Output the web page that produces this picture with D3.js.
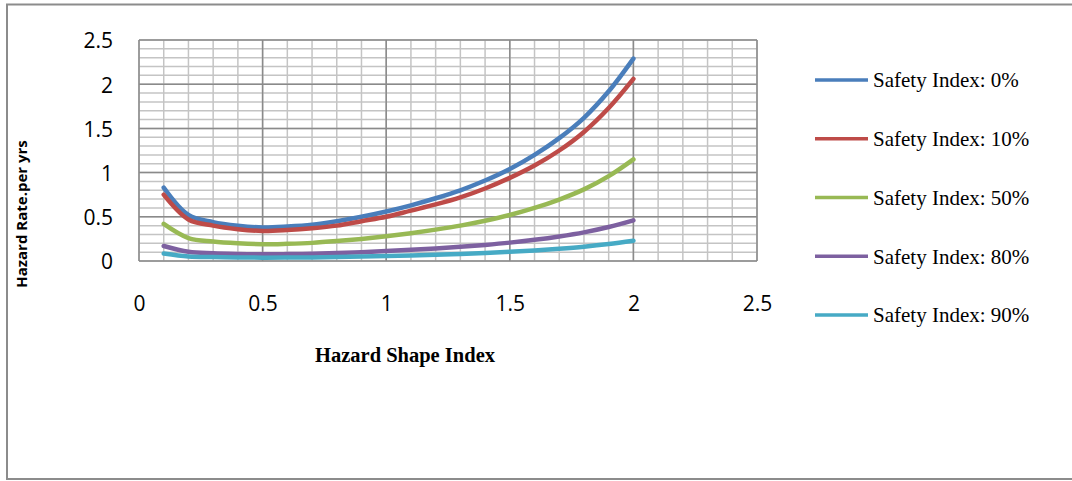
<!DOCTYPE html>
<html>
<head>
<meta charset="utf-8">
<script src="https://cdn.jsdelivr.net/npm/d3@7"></script>
<style>
  html, body { margin: 0; padding: 0; background: #fff; }
  svg { display: block; }
</style>
</head>
<body>
<svg id="chart" width="1072" height="481"></svg>
<script>
// Hazard rate against hazard shape index, one curve per safety index.
const shapeIndex = [0.1, 0.2, 0.3, 0.4, 0.5, 0.6, 0.7, 0.8, 0.9, 1.0,
                    1.1, 1.2, 1.3, 1.4, 1.5, 1.6, 1.7, 1.8, 1.9, 2.0];

const seriesNames = ["Safety Index: 0%", "Safety Index: 10%", "Safety Index: 50%",
                     "Safety Index: 80%", "Safety Index: 90%"];

const safety0  = [0.83, 0.52, 0.44, 0.40, 0.38, 0.39, 0.41, 0.45, 0.50, 0.56,
                  0.63, 0.71, 0.80, 0.91, 1.04, 1.20, 1.39, 1.62, 1.92, 2.29];
const safety10 = [0.75, 0.47, 0.40, 0.36, 0.34, 0.35, 0.37, 0.40, 0.45, 0.50,
                  0.57, 0.64, 0.72, 0.82, 0.94, 1.08, 1.25, 1.46, 1.73, 2.06];
const safety50 = [0.42, 0.26, 0.22, 0.20, 0.19, 0.195, 0.205, 0.225, 0.25, 0.28,
                  0.315, 0.355, 0.40, 0.455, 0.52, 0.60, 0.695, 0.81, 0.96, 1.15];
const safety80 = [0.17, 0.105, 0.088, 0.08, 0.076, 0.078, 0.082, 0.09, 0.10, 0.112,
                  0.126, 0.142, 0.16, 0.182, 0.208, 0.24, 0.278, 0.324, 0.384, 0.46];
const safety90 = [0.085, 0.052, 0.044, 0.04, 0.038, 0.039, 0.041, 0.045, 0.05, 0.056,
                  0.063, 0.071, 0.08, 0.091, 0.104, 0.12, 0.139, 0.162, 0.192, 0.23];

const seriesValues = [safety0, safety10, safety50, safety80, safety90];
const seriesColors = ["#4a7ebb", "#be4b48", "#98b954", "#7d60a0", "#46aac5"];

const xTicks = [0, 0.5, 1, 1.5, 2, 2.5];
const yTicks = [0, 0.5, 1, 1.5, 2, 2.5];

const svg = d3.select("#chart");

// outer chart frame (runs past the right edge)
svg.append("rect")
  .attr("x", 7).attr("y", 4.5)
  .attr("width", 1080).attr("height", 474.5)
  .attr("fill", "none").attr("stroke", "#8c8c8c").attr("stroke-width", 2);

const plot = { left: 139, right: 757, top: 40, bottom: 261 };

const x = d3.scaleLinear().domain([0, 2.5]).range([plot.left, plot.right]);
const y = d3.scaleLinear().domain([0, 2.5]).range([plot.bottom, plot.top]);

// minor gridlines every 0.1
const minor = d3.range(0, 26).map(i => i / 10);
const grid = svg.append("g");
grid.selectAll("line.mx").data(minor).join("line")
  .attr("x1", d => x(d)).attr("x2", d => x(d))
  .attr("y1", plot.top).attr("y2", plot.bottom)
  .attr("stroke", "#c4c4c4").attr("stroke-width", 1.5);
grid.selectAll("line.my").data(minor).join("line")
  .attr("x1", plot.left).attr("x2", plot.right)
  .attr("y1", d => y(d)).attr("y2", d => y(d))
  .attr("stroke", "#c4c4c4").attr("stroke-width", 1.5);
// major gridlines every 0.5
grid.selectAll("line.Mx").data(xTicks).join("line")
  .attr("x1", d => x(d)).attr("x2", d => x(d))
  .attr("y1", plot.top).attr("y2", plot.bottom)
  .attr("stroke", "#8a8a8a").attr("stroke-width", 1.5);
grid.selectAll("line.My").data(yTicks).join("line")
  .attr("x1", plot.left).attr("x2", plot.right)
  .attr("y1", d => y(d)).attr("y2", d => y(d))
  .attr("stroke", "#8a8a8a").attr("stroke-width", 1.5);

// tick labels
const fmt = d => String(d);
const yAxis = d3.axisLeft(y).tickValues(yTicks).tickFormat(fmt).tickSize(0).tickPadding(26);
const gy = svg.append("g").attr("transform", `translate(${plot.left},0)`).call(yAxis);
gy.select(".domain").remove();
gy.selectAll("text").attr("font-family", "Open Sans, sans-serif").attr("font-size", 21)
  .attr("fill", "#000").attr("dy", "0.38em");

const xAxis = d3.axisBottom(x).tickValues(xTicks).tickFormat(fmt).tickSize(0).tickPadding(35);
const gx = svg.append("g").attr("transform", `translate(0,${plot.bottom})`).call(xAxis);
gx.select(".domain").remove();
gx.selectAll("text").attr("font-family", "Open Sans, sans-serif").attr("font-size", 21)
  .attr("fill", "#000");

// series curves
const line = d3.line()
  .x((d, i) => x(shapeIndex[i]))
  .y(d => y(d))
  .curve(d3.curveCatmullRom.alpha(0.5));

svg.append("g").selectAll("path").data(seriesValues).join("path")
  .attr("d", d => line(d))
  .attr("fill", "none")
  .attr("stroke", (d, i) => seriesColors[i])
  .attr("stroke-width", 4.5)
  .attr("stroke-linecap", "round")
  .attr("stroke-linejoin", "round");

// axis titles
svg.append("text")
  .attr("x", 405).attr("y", 362)
  .attr("text-anchor", "middle")
  .attr("font-family", "Liberation Serif, Times New Roman, serif")
  .attr("font-weight", "bold").attr("font-size", 20.5)
  .text("Hazard Shape Index");

svg.append("text")
  .attr("transform", "translate(27,214) rotate(-90)")
  .attr("text-anchor", "middle")
  .attr("font-family", "Open Sans, sans-serif")
  .attr("font-weight", "bold").attr("font-size", 15)
  .text("Hazard Rate.per yrs");

// legend
const legend = svg.append("g");
const legendY = d3.scaleLinear().domain([0, 4]).range([80, 315]);
seriesNames.forEach((name, i) => {
  const ly = legendY(i);
  legend.append("line")
    .attr("x1", 815).attr("x2", 868).attr("y1", ly).attr("y2", ly)
    .attr("stroke", seriesColors[i]).attr("stroke-width", 3.5);
  legend.append("text")
    .attr("x", 873).attr("y", ly).attr("dy", "0.35em")
    .attr("font-family", "Liberation Serif, Times New Roman, serif")
    .attr("font-size", 21)
    .text(name);
});
</script>
</body>
</html>
